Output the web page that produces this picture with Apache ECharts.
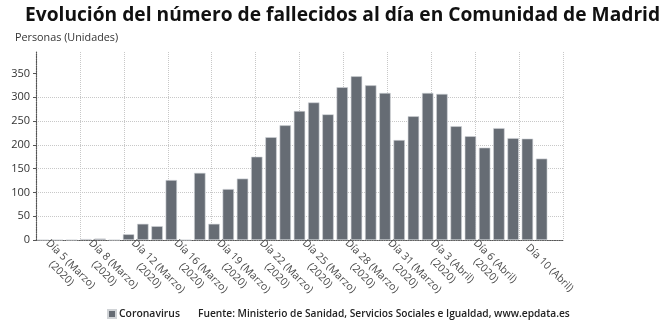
<!DOCTYPE html>
<html>
<head>
<meta charset="utf-8">
<script src="https://cdn.jsdelivr.net/npm/echarts@6/dist/echarts.min.js"></script>
<style>
html,body{margin:0;padding:0;background:#fff;}
#c{width:670px;height:327px;}
</style>
</head>
<body>
<div id="c"></div>
<script>
var titulo = 'Evolución del número de fallecidos al día en Comunidad de Madrid';
var unidad = 'Personas (Unidades)';
var fuente = 'Fuente: Ministerio de Sanidad, Servicios Sociales e Igualdad, www.epdata.es';
var serieNombre = 'Coronavirus';

var dias = [
  'Día 5 (Marzo)\n(2020)', 'Día 6 (Marzo)\n(2020)', 'Día 7 (Marzo)\n(2020)',
  'Día 8 (Marzo)\n(2020)', 'Día 10 (Marzo)\n(2020)', 'Día 11 (Marzo)\n(2020)',
  'Día 12 (Marzo)\n(2020)', 'Día 13 (Marzo)\n(2020)', 'Día 14 (Marzo)\n(2020)',
  'Día 16 (Marzo)\n(2020)', 'Día 17 (Marzo)\n(2020)', 'Día 18 (Marzo)\n(2020)',
  'Día 19 (Marzo)\n(2020)', 'Día 20 (Marzo)\n(2020)', 'Día 21 (Marzo)\n(2020)',
  'Día 22 (Marzo)\n(2020)', 'Día 23 (Marzo)\n(2020)', 'Día 24 (Marzo)\n(2020)',
  'Día 25 (Marzo)\n(2020)', 'Día 26 (Marzo)\n(2020)', 'Día 27 (Marzo)\n(2020)',
  'Día 28 (Marzo)\n(2020)', 'Día 29 (Marzo)\n(2020)', 'Día 30 (Marzo)\n(2020)',
  'Día 31 (Marzo)\n(2020)', 'Día 1 (Abril)\n(2020)', 'Día 2 (Abril)\n(2020)',
  'Día 3 (Abril)\n(2020)', 'Día 4 (Abril)\n(2020)', 'Día 5 (Abril)\n(2020)',
  'Día 6 (Abril)\n(2020)', 'Día 7 (Abril)\n(2020)', 'Día 8 (Abril)\n(2020)',
  'Día 9 (Abril)\n(2020)', 'Día 10 (Abril)', 'Día 11 (Abril)', ''
];
var etiquetasVisibles = [0, 3, 6, 9, 12, 15, 18, 21, 24, 27, 30, 34];

var fallecidos = [0, 0, 0, 2, 3, 0, 12, 34, 29, 126, 0, 141, 34, 107, 129, 175, 216, 241,
  271, 289, 264, 321, 344, 325, 309, 210, 260, 309, 307, 239, 218, 194, 235, 214, 213, 171, null];

var yTicks = [0, 50, 100, 150, 200, 250, 300, 350];
var yMax = 395;

var chart = echarts.init(document.getElementById('c'), null, {renderer: 'canvas'});
var option = {
  animation: false,
  textStyle: {fontFamily: 'Open Sans'},
  title: {
    text: titulo,
    left: 20, top: 1,
    textStyle: {fontFamily: 'Open Sans', fontWeight: 'bold', fontSize: 19.2, color: '#111'}
  },
  graphic: [
    {type: 'text', left: 15, top: 32, style: {text: unidad, font: '10.8px "Open Sans"', fill: '#333'}},
    {type: 'text', left: 198, top: 309, style: {text: fuente, font: '600 10.2px "Open Sans"', fill: '#222'}}
  ],
  legend: {
    left: 102, top: 304,
    icon: 'rect', itemWidth: 8, itemHeight: 8, itemGap: 6,
    textStyle: {fontFamily: 'Open Sans', fontSize: 10.4, fontWeight: 600, color: '#222', padding: [0, 0, 0, -2]},
    data: [serieNombre]
  },
  grid: {left: 36, right: 107, top: 52, bottom: 87, containLabel: false},
  xAxis: [
    {
      type: 'category',
      data: dias,
      boundaryGap: true,
      axisLine: {show: true, lineStyle: {color: '#555', type: 'dotted', width: 1.2}},
      axisTick: {show: false},
      splitLine: {show: false},
      axisLabel: {
        interval: function (i) { return etiquetasVisibles.indexOf(i) >= 0; },
        rotate: -45,
        margin: 6,
        formatter: function (v) {
          return v.split('\n').map(function (s) { return '{a|' + s + '}'; }).join('\n');
        },
        rich: {
          a: {align: 'center', fontFamily: 'Open Sans', fontSize: 10.5, color: '#484848', lineHeight: 13}
        }
      }
    },
    {
      type: 'value',
      min: 0, max: 12, interval: 1,
      position: 'bottom',
      axisLine: {show: false},
      axisTick: {show: false},
      axisLabel: {show: false},
      splitLine: {show: true, lineStyle: {color: '#c8c8c8', type: 'dotted', width: 1}}
    }
  ],
  yAxis: {
    type: 'value',
    min: 0, max: yMax, interval: 50,
    axisLine: {show: true, lineStyle: {color: '#555', type: 'dotted', width: 1.2}},
    axisTick: {show: true, length: 3, customValues: yTicks, lineStyle: {color: '#555'}},
    axisLabel: {customValues: yTicks, margin: 6, fontFamily: 'Open Sans', fontSize: 11, color: '#333'},
    splitLine: {show: true, showMaxLine: false, showMinLine: false, lineStyle: {color: '#c8c8c8', type: 'dotted', width: 1}}
  },
  series: [{
    name: serieNombre,
    type: 'bar',
    xAxisIndex: 0,
    data: fallecidos,
    barCategoryGap: '20%',
    itemStyle: {color: '#666c74', borderColor: '#d0d3d6', borderWidth: 0.6}
  }]
};
chart.setOption(option);
</script>
</body>
</html>
